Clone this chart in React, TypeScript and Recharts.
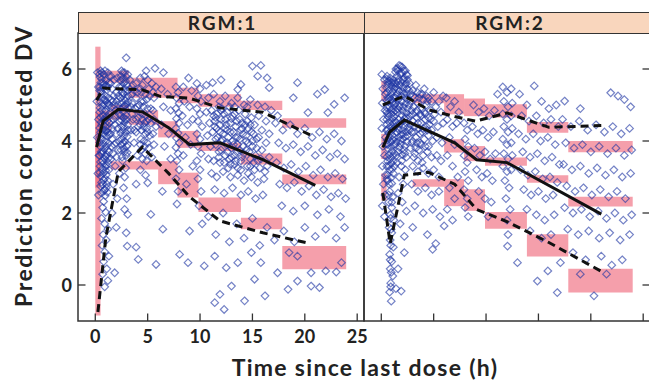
import React from 'react';
import { ComposedChart, XAxis, YAxis, Scatter, Line, ReferenceArea } from 'recharts';

const X_TICKS = [0, 5, 10, 15, 20, 25];
const Y_TICKS = [0, 2, 4, 6];
const X_DOMAIN: [number, number] = [-1.65, 25.65];
const Y_DOMAIN: [number, number] = [-1, 7];
const PANEL_TITLES = ['RGM:1', 'RGM:2'];
const Y_TITLE = 'Prediction corrected DV';
const X_TITLE = 'Time since last dose (h)';

// Observed prediction-corrected DV, RGM:1  [time, pcDV]
const obsRgm1: [number, number][] = [
  [0.5,5.95],[0.8,5.85],[1.2,5.9],[0.6,5.72],[1.0,5.68],[1.3,5.62],[0.45,5.5],[0.75,5.48],[1.1,5.42],[0.6,5.3],[0.95,5.26],[1.25,5.2],[0.5,5.08],[0.85,5.02],[1.15,4.98],[0.65,4.86],[1.0,4.82],[1.3,4.76],[0.5,4.66],[0.8,4.6],[1.15,4.56],[0.6,4.44],[0.95,4.4],[1.25,4.36],[0.5,4.24],[0.8,4.2],[1.1,4.14],[0.65,4.04],[1.0,3.98],[1.3,3.94],[0.5,3.84],[0.85,3.78],[1.15,3.74],[0.6,3.64],[0.95,3.58],[1.25,3.52],[0.5,3.42],[0.8,3.38],[1.1,3.32],[0.65,3.22],[1.0,3.18],[0.55,3.02],[0.9,2.96],[1.2,2.9],[0.7,2.78],[1.05,2.7],[0.6,2.55],[0.95,2.48],[0.8,2.32],
  [0.45,5.78],[0.7,5.62],[1.05,5.55],[0.55,5.38],[0.85,5.14],[1.2,5.05],[0.45,4.92],[0.75,4.72],[1.05,4.68],[0.55,4.52],[0.9,4.3],[1.2,4.24],[0.45,4.1],[0.75,3.92],[1.05,3.86],[0.55,3.7],[0.9,3.5],[1.2,3.42],[0.45,3.3],[0.75,3.1],[1.05,3.06],[0.6,2.85],[0.85,2.62],[1.15,2.58],
  [0.42,5.86],[0.62,5.9],[0.92,5.95],[1.32,5.8],[0.52,5.62],[0.82,5.58],[1.18,5.5],[0.42,5.4],[0.7,5.2],[1.0,5.12],[1.32,5.0],[0.42,4.8],[0.7,4.98],[0.95,4.6],[1.32,4.5],[0.42,4.36],[0.7,4.32],[1.05,4.28],[1.32,4.16],[0.42,3.96],[0.72,3.7],[1.1,3.62],[1.32,3.7],[0.42,3.6],[0.68,3.45],[0.95,3.28],[1.3,3.2],[0.45,3.12],[0.78,2.92],[1.1,2.8],[0.5,2.75],[0.9,2.65],
  [0.7,2.15],[1.0,2.02],[0.6,1.85],[0.9,1.7],[1.2,1.55],[0.75,1.4],[1.05,1.25],[0.65,1.1],[0.9,0.92],[1.3,0.8],[0.8,0.65],[1.1,0.45],[0.7,0.3],[1.2,0.12],[0.9,-0.05],
  [0.2,5.9],[0.3,5.5],[0.15,5.1],[0.3,4.6],[0.2,4.1],[0.35,3.6],[0.25,3.1],[0.3,2.5],
  [1.5,5.8],[1.8,5.7],[2.1,5.75],[1.6,5.45],[2.0,5.35],[2.3,5.5],[1.7,5.1],[2.2,5.0],[1.5,4.8],[1.9,4.7],[2.3,4.55],[1.6,4.35],[2.0,4.2],[1.8,3.9],[2.2,3.75],[1.5,3.5],[1.9,3.3],[2.3,3.1],[1.7,2.8],[2.1,2.4],[1.6,2.0],[2.0,1.6],
  [1.45,5.6],[1.75,5.25],[2.05,5.1],[1.55,4.95],[1.95,4.85],[2.25,4.75],[1.5,4.55],[1.85,4.45],[2.15,4.35],[1.6,4.05],[2.0,3.95],[1.7,3.65],
  [1.5,5.15],[1.85,5.0],[2.2,5.25],[1.45,4.2],[1.75,4.6],[2.3,4.0],[1.55,3.85],[2.0,3.55],
  [2.5,5.95],[2.8,5.9],[3.1,5.85],[2.6,5.72],[2.9,5.66],[2.5,5.5],[2.8,5.45],[3.1,5.4],[2.6,5.25],[2.95,5.2],[2.5,5.05],[2.8,4.98],[3.1,4.92],[2.65,4.8],[2.95,4.72],[2.5,4.58],[2.8,4.52],[3.1,4.45],[2.6,4.3],[2.9,4.24],[2.55,4.06],[2.85,3.98],[3.1,3.9],[2.7,3.78],[2.95,3.6],[2.6,3.45],[2.9,3.25],[2.8,3.0],[2.7,2.7],[3.0,2.4],[2.8,2.1],[2.95,6.31],[3.1,1.96],[2.95,1.45],[3.05,1.08],
  [2.45,5.8],[2.7,5.6],[3.0,5.55],[2.55,5.35],[2.85,5.12],[3.15,5.1],[2.45,4.9],[2.7,4.65],[3.0,4.6],[2.5,4.4],[2.75,4.15],[3.05,4.12],[2.5,3.9],[2.8,3.7],[3.05,3.68],[2.55,3.55],
  [2.42,5.68],[2.62,5.9],[2.98,5.78],[2.42,5.2],[2.7,5.32],[3.15,5.25],[2.42,4.72],[2.68,4.95],[3.0,5.02],[2.42,4.22],[2.72,4.4],[3.15,4.3],[2.45,3.75],[2.65,3.95],[3.0,3.85],[2.85,4.6],
  [3.3,5.7],[3.6,5.55],[3.9,5.6],[4.3,5.75],[4.7,5.8],[5.0,5.7],[5.4,5.6],[5.8,5.5],[3.5,5.3],[3.9,5.2],[4.4,5.35],[4.8,5.3],[5.2,5.25],[5.6,5.2],[3.4,4.95],[3.8,4.9],[4.2,5.0],[4.6,4.95],[5.0,4.9],[5.5,4.85],[3.6,4.6],[4.1,4.65],[4.5,4.6],[4.9,4.55],[5.3,4.5],[5.8,4.4],[3.4,4.3],[3.9,4.25],[4.4,4.3],[4.8,4.2],[5.2,4.15],[3.7,3.95],[4.3,3.9],[4.7,3.85],[5.1,3.8],[5.6,3.9],[4.0,3.6],[4.5,3.5],[4.9,3.45],[5.4,3.55],[4.3,3.2],[4.8,3.05],
  [4.3,5.45],[4.6,5.1],[4.9,5.15],[4.25,4.8],[4.55,4.75],[4.85,4.7],[4.3,4.45],[4.6,4.4],[4.9,4.35],[4.35,4.05],[4.65,4.0],[4.95,3.95],[4.4,3.75],[4.75,3.65],
  [3.3,5.45],[3.7,5.4],[4.0,5.35],[4.5,5.55],[5.1,5.45],[5.5,5.35],[3.5,5.05],[4.0,4.95],[4.4,5.1],[5.3,4.9],[3.5,4.75],[3.9,4.6],[4.7,4.5],[5.1,4.6],[5.6,4.6],[3.7,4.3],[4.1,4.4],[5.0,4.25],[5.5,4.2],
  [4.85,5.95],[5.7,6.02],[6.5,5.9],[3.9,2.8],[5.0,2.84],[5.3,1.96],[4.1,0.71],[5.8,0.57],[6.45,1.55],[3.9,1.05],[1.85,0.34],
  [6.3,5.45],[6.9,5.3],[6.5,4.95],[7.2,4.85],[6.3,4.45],[7.0,4.2],[6.6,3.85],[7.2,3.5],[6.4,2.6],
  [7.7,5.5],[7.9,5.35],[7.75,5.2],[8.0,5.05],[7.7,4.9],[7.95,4.78],[7.75,4.62],[8.0,4.5],[7.7,4.35],[7.9,4.22],[7.75,4.08],[8.0,3.95],[7.7,3.82],[7.9,3.65],[7.8,3.45],[8.0,3.2],[7.7,2.95],[7.9,2.6],[7.8,2.25],[8.05,0.85],[8.85,0.62],
  [8.4,5.5],[8.9,5.75],[9.2,5.4],[8.5,5.1],[9.0,4.95],[8.3,4.7],[8.8,4.45],[9.3,4.6],[8.6,4.1],[9.1,3.9],[8.4,3.6],[9.3,3.3],[8.7,2.8],[9.0,1.5],
  [9.7,5.6],[10.0,5.45],[9.8,5.25],[10.1,5.1],[9.7,4.9],[10.0,4.75],[9.8,4.55],[10.2,4.4],[9.7,4.2],[10.0,4.05],[9.8,3.85],[10.1,3.65],[9.7,3.45],[10.0,3.2],[9.8,2.95],[10.1,2.6],[9.9,2.2],[10.2,1.7],[10.4,0.53],
  [10.8,5.2],[11.3,5.3],[11.9,5.1],[12.4,5.25],[13.0,5.05],[13.6,5.2],[14.2,5.0],[14.8,5.15],[15.5,5.0],[16.2,4.95],[16.8,4.85],
  [10.6,4.8],[11.1,4.85],[11.6,4.75],[12.1,4.9],[12.6,4.8],[13.1,4.7],[13.7,4.85],[14.3,4.75],[14.9,4.65],[15.6,4.7],[16.3,4.55],
  [10.9,4.5],[11.4,4.55],[11.9,4.45],[12.4,4.6],[12.9,4.5],[13.4,4.4],[14.0,4.5],[14.6,4.35],[15.2,4.45],[15.9,4.3],[16.6,4.2],
  [10.7,4.15],[11.2,4.25],[11.7,4.1],[12.2,4.2],[12.7,4.1],[13.2,4.25],[13.8,4.05],[14.4,4.15],[15.0,4.0],[15.6,4.1],[16.3,3.95],
  [11.0,3.85],[11.5,3.9],[12.0,3.75],[12.5,3.9],[13.0,3.8],[13.5,3.7],[14.1,3.85],[14.7,3.7],[15.3,3.6],[15.9,3.75],[16.6,3.55],
  [10.8,3.5],[11.3,3.45],[11.8,3.55],[12.3,3.4],[12.8,3.5],[13.3,3.35],[13.9,3.45],[14.5,3.3],[15.1,3.4],[15.7,3.25],[16.4,3.3],
  [11.1,3.1],[11.6,3.0],[12.2,3.15],[12.9,3.0],[13.6,3.05],[14.2,2.9],[14.9,3.0],[15.5,2.85],[16.1,2.95],
  [11.4,2.65],[12.3,2.55],[13.1,2.7],[13.9,2.5],[14.6,2.6],[15.3,2.4],[16.0,2.5],
  [11.5,4.65],[12.0,4.6],[12.5,4.45],[13.0,4.62],[13.5,4.55],[14.0,4.35],[14.5,4.55],[11.6,4.35],[12.1,4.05],[12.6,4.3],[13.1,4.0],[13.6,4.1],[14.1,4.2],[14.6,3.95],[15.1,4.2],[11.8,3.7],[12.4,3.6],[13.0,3.55],[13.6,3.9],[14.2,3.65],[14.8,3.5],[15.4,3.8],[12.7,3.25],[13.3,3.6],[13.9,3.2],[14.6,3.1],[15.2,3.2],[15.8,3.5],[16.2,3.15],[12.0,4.85],[13.3,4.95],[14.5,4.95],
  [11.3,4.7],[11.8,4.95],[12.3,4.75],[12.8,4.95],[13.3,4.75],[13.8,4.6],[14.3,4.45],[14.8,4.45],[11.4,4.4],[11.9,4.25],[12.4,4.35],[12.9,4.25],[13.4,4.1],[13.9,4.3],[14.4,4.0],[14.9,4.25],[15.4,4.05],[11.5,4.05],[12.0,4.0],[12.6,3.95],[13.2,3.9],[13.8,3.75],[14.4,3.75],[15.0,3.85],[11.9,3.4],[12.6,3.7],[13.4,3.45],[14.0,3.55],[14.8,3.3],[15.5,3.45],[12.9,3.35],[13.6,3.25],
  [17.2,4.5],[17.9,4.3],[18.6,4.45],[19.3,4.2],[20.0,4.35],[20.7,4.1],[21.4,4.25],[22.1,4.05],[22.8,4.2],[23.5,4.0],
  [17.5,3.95],[18.2,3.8],[18.9,3.9],[19.6,3.7],[20.3,3.85],[21.0,3.6],[21.7,3.75],[22.4,3.55],[23.1,3.65],[23.8,3.5],
  [17.3,3.4],[18.0,3.25],[18.7,3.35],[19.4,3.15],[20.1,3.3],[20.8,3.05],[21.5,3.2],[22.2,3.0],[22.9,3.1],[23.6,2.95],
  [17.6,2.8],[18.3,2.7],[19.0,2.85],[19.7,2.6],[20.4,2.75],[21.1,2.5],[21.8,2.65],[22.5,2.45],[23.2,2.55],[23.9,2.4],
  [17.8,2.2],[18.9,2.05],[20.0,2.2],[21.2,1.95],[22.3,2.1],[23.4,1.9],
  [10.8,1.9],[11.5,1.4],[12.2,2.0],[12.8,1.2],[13.5,1.7],[14.2,1.3],[15.0,1.85],[15.7,1.1],[16.4,1.6],[17.1,1.25],[18.0,1.5],[19.0,1.2],[20.0,1.6],[21.0,1.35],[22.0,1.55],[23.0,1.3],[23.8,1.6],
  [11.4,0.8],[12.5,0.48],[13.6,0.62],[14.9,0.9],[15.8,0.62],[17.4,0.34],[19.3,0.8],[20.6,0.34],[22.0,0.39],[23.0,0.36],[23.5,0.62],[18.5,0.9],
  [11.4,-0.49],[11.9,-0.26],[12.3,-0.68],[13.0,-0.03],[14.25,-0.44],[15.2,0.16],[16.2,-0.3],[18.4,-0.12],[19.3,0.11],[20.6,-0.03],[21.4,-0.07],
  [15.0,6.08],[15.8,6.1],[15.5,5.8],[16.4,5.75],[16.6,5.48],[13.9,5.57],[13.6,5.43],[11.2,5.62],[19.3,5.62],[18.9,5.2],[21.2,5.3],[21.9,5.43],[23.8,5.2],[22.8,5.02],[22.2,4.79],[20.3,4.79],[17.4,4.7],[12.0,5.7],[10.6,5.55],
];

// Observed prediction-corrected DV, RGM:2
const obsRgm2: [number, number][] = [
  [0.05,5.85],[0.3,5.7],[0.15,5.45],[0.4,5.3],[0.1,5.05],[0.35,4.85],[0.2,4.6],[0.05,4.35],[0.4,4.1],[0.15,3.85],[0.3,3.6],[0.1,3.3],[0.4,3.05],[0.2,2.8],[0.35,2.5],[0.1,2.2],[0.3,1.9],
  [0.55,5.8],[0.85,5.75],[1.15,5.7],[0.65,5.58],[1.0,5.52],[1.25,5.45],[0.55,5.35],[0.9,5.3],[1.2,5.22],[0.7,5.1],[1.05,5.05],[0.55,4.92],[0.9,4.86],[1.2,4.8],[0.65,4.68],[1.0,4.62],[1.3,4.56],[0.55,4.46],[0.85,4.4],[1.15,4.34],[0.7,4.22],[1.05,4.16],[0.55,4.02],[0.9,3.96],[1.2,3.9],[0.65,3.78],[1.0,3.72],[0.55,3.56],[0.85,3.5],[1.15,3.44],[0.7,3.3],[1.05,3.22],[0.6,3.06],[0.95,2.98],[0.75,2.8],
  [0.6,5.65],[0.95,5.62],[1.25,5.6],[0.6,5.2],[0.95,5.16],[1.25,5.0],[0.6,4.76],[0.95,4.74],[1.25,4.68],[0.6,4.32],[0.95,4.28],[1.25,4.1],[0.6,3.9],[0.95,3.84],[1.25,3.66],[0.6,3.44],[0.95,3.38],[1.25,3.3],[0.6,2.9],[1.0,2.82],[0.7,2.5],[1.0,2.3],[0.9,1.85],[0.95,1.55],[0.9,1.1],[0.85,0.7],[0.95,0.35],[0.9,-0.05],
  [0.52,5.72],[0.78,5.68],[1.08,5.62],[0.5,5.48],[0.8,5.42],[1.1,5.38],[0.52,5.12],[0.78,5.2],[1.12,5.1],[0.5,4.82],[0.8,4.95],[1.1,4.9],[0.52,4.6],[0.78,4.52],[1.12,4.48],[0.5,4.3],[0.78,4.1],[1.1,4.04],[0.52,3.92],[0.75,3.62],[1.1,3.58],[0.52,3.3],[0.8,3.2],[1.15,3.1],[0.55,2.95],
  [0.8,2.6],[1.1,2.45],[0.7,2.3],[1.0,2.15],[0.85,1.95],[1.2,1.8],[0.75,1.6],[1.0,1.45],[0.85,1.25],[1.15,1.05],[0.8,0.85],[1.0,0.65],[0.85,0.45],[1.1,0.25],[0.9,0.05],[0.8,-0.2],[0.95,-0.45],[1.4,-0.1],[1.6,0.45],
  [1.4,6.0],[1.7,6.1],[2.0,6.05],[2.3,5.95],[1.5,5.8],[1.85,5.85],[2.2,5.75],[2.5,5.7],[1.4,5.6],[1.75,5.55],[2.1,5.5],[2.45,5.45],[1.5,5.3],[1.9,5.25],[2.3,5.2],[1.4,5.05],[1.75,5.0],[2.1,4.95],[2.5,4.9],[1.55,4.78],[1.95,4.72],[2.35,4.66],[1.4,4.52],[1.8,4.48],[2.2,4.42],[2.55,4.38],[1.5,4.24],[1.9,4.18],[2.3,4.12],[1.45,3.98],[1.85,3.92],[2.25,3.86],[1.6,3.7],[2.0,3.62],[2.4,3.55],[1.5,3.4],[1.9,3.3],[2.3,3.2],[1.7,3.0],[2.1,2.8],[1.6,2.55],[2.0,2.3],[2.4,2.05],[1.8,1.7],[2.2,1.35],[2.2,0.9],[1.9,-0.17],
  [1.6,5.95],[1.95,5.9],[2.4,5.85],[1.6,5.65],[1.95,5.62],[2.3,5.58],[1.6,5.42],[2.0,5.38],[2.4,5.32],[1.6,5.15],[1.95,5.1],[2.35,5.05],[1.6,4.88],[2.05,4.84],[2.4,4.78],[1.65,4.6],[2.05,4.55],[2.4,4.5],[1.6,4.35],[2.0,4.3],[2.4,4.25],[1.65,4.1],[2.05,4.05],[2.45,3.98],[1.75,3.82],[2.15,3.75],
  [1.35,5.92],[1.55,6.02],[1.85,6.08],[2.15,5.95],[2.5,5.82],[1.35,5.5],[1.68,5.72],[2.05,5.7],[2.4,5.6],[1.35,5.2],[1.7,5.38],[2.15,5.3],[2.5,5.15],[1.35,4.85],[1.75,4.95],[2.2,4.62],[2.55,4.62],[1.35,4.4],[1.7,4.3],[2.1,4.2],[2.5,4.15],[1.35,3.9],[1.8,4.02],[2.25,3.65],[1.45,3.6],[1.95,3.45],
  [2.7,5.6],[3.0,5.4],[3.3,5.55],[3.7,5.3],[4.1,5.45],[4.5,5.2],[5.0,5.35],[5.5,5.1],[5.9,5.25],
  [2.8,5.1],[3.1,4.95],[3.5,5.05],[3.9,4.9],[4.3,5.0],[4.7,4.85],[5.2,4.95],[5.7,4.8],
  [2.7,4.7],[3.0,4.55],[3.4,4.65],[3.8,4.5],[4.2,4.6],[4.6,4.45],[5.0,4.55],[5.4,4.4],[5.9,4.5],
  [2.9,4.25],[3.3,4.1],[3.7,4.2],[4.1,4.05],[4.5,4.15],[4.9,4.0],[5.3,4.1],[5.8,3.95],
  [2.8,3.8],[3.2,3.65],[3.6,3.75],[4.0,3.6],[4.4,3.7],[4.8,3.55],[5.3,3.6],[5.7,3.45],
  [3.0,3.3],[3.5,3.15],[4.0,3.25],[4.5,3.1],[5.0,3.2],[5.5,3.0],
  [2.9,2.8],[3.5,2.6],[4.2,2.7],[4.8,2.5],[5.5,2.6],
  [3.2,2.2],[4.0,2.0],[4.9,2.1],[5.6,1.9],[3.0,1.6],[4.4,1.4],[4.9,0.99],[6.0,1.64],[5.2,1.15],
  [2.8,5.3],[3.2,5.2],[3.6,5.2],[4.0,5.15],[4.4,5.1],[2.9,4.85],[3.3,4.8],[3.7,4.75],[4.1,4.8],[4.5,4.65],[2.8,4.45],[3.2,4.4],[3.6,4.35],[4.0,4.35],[4.4,4.3],[3.0,4.0],[3.4,3.95],[3.8,3.9],[4.2,3.85],[3.1,3.55],[3.5,3.45],[3.9,3.4],
  [2.65,5.4],[3.05,5.25],[3.45,5.35],[3.9,5.3],[4.3,5.25],[4.8,5.1],[2.65,5.0],[3.0,4.75],[3.4,4.85],[3.8,4.7],[4.2,4.75],[4.7,4.6],[5.1,4.75],[2.7,4.3],[3.1,4.25],[3.5,4.5],[3.9,4.25],[4.3,4.4],[4.8,4.3],[2.9,3.95],[3.3,3.8],[3.7,3.95],[4.5,3.85],
  [6.2,5.2],[6.6,4.95],[7.0,5.1],[7.4,4.8],[6.3,4.6],[6.8,4.4],[7.2,4.5],[6.5,4.1],[7.0,3.9],[6.3,3.6],[6.8,3.3],[7.3,3.0],[6.5,2.7],[7.0,2.4],[6.3,2.1],[6.8,1.8],
  [7.9,4.5],[8.2,4.3],[8.0,4.05],[8.3,3.85],[7.9,3.6],[8.2,3.4],[8.0,3.15],[8.3,2.9],[7.9,2.65],[8.2,2.4],[8.0,2.15],[8.3,1.9],
  [8.8,5.0],[9.3,4.8],[9.8,4.9],[10.3,4.7],[10.8,4.85],[8.7,4.4],[9.2,4.2],[9.7,4.3],[10.2,4.1],[10.7,4.25],[8.9,3.8],[9.4,3.6],[9.9,3.7],[10.4,3.5],[10.9,3.65],[9.1,3.2],[9.6,3.0],[10.1,3.1],[10.6,2.9],[9.3,2.6],[9.9,2.4],[10.5,2.3],[10.2,1.9],[11.1,5.3],
  [11.6,5.5],[12.0,5.35],[12.4,5.45],[11.7,5.1],[12.1,4.95],[12.5,5.05],[11.6,4.75],[12.0,4.6],[12.4,4.7],[11.7,4.4],[12.1,4.25],[12.5,4.35],[11.6,4.05],[12.0,3.9],[12.4,3.95],[11.7,3.65],[12.1,3.5],[12.5,3.6],[11.6,3.3],[12.0,3.15],[12.4,3.2],[11.8,2.9],[12.2,2.7],[11.9,2.4],[12.3,2.1],[12.0,1.8],[12.1,1.4],[12.05,1.08],
  [13.2,5.3],[13.9,5.0],[14.6,5.53],[15.3,5.1],[16.0,4.9],[16.7,5.0],
  [13.4,4.7],[14.1,4.55],[14.8,4.7],[15.5,4.5],[16.2,4.6],[16.9,4.4],
  [13.1,4.2],[13.8,4.05],[14.5,4.2],[15.2,4.0],[15.9,4.1],[16.6,3.9],
  [13.5,3.7],[14.2,3.55],[14.9,3.65],[15.6,3.45],[16.3,3.55],[17.0,3.35],
  [13.3,3.2],[14.0,3.05],[14.7,3.15],[15.4,2.95],[16.1,3.0],[16.8,2.85],
  [13.6,2.65],[14.3,2.5],[15.0,2.6],[15.7,2.4],[16.4,2.5],
  [13.9,2.1],[14.8,1.95],[15.6,1.8],[16.5,1.95],
  [14.2,1.5],[15.3,1.3],[16.2,1.4],[13.0,0.62],[14.9,0.11],[15.9,0.39],[16.8,-0.21],[17.1,0.62],
  [17.5,5.11],[21.9,5.34],[22.6,5.25],[23.2,5.15],[23.8,4.95],[19.0,4.9],
  [17.3,4.6],[18.1,4.4],[18.9,4.55],[19.7,4.3],[20.5,4.45],[21.3,4.25],[22.1,4.4],[22.9,4.2],[23.7,4.35],
  [17.6,3.95],[18.4,3.8],[19.2,3.9],[20.0,3.7],[20.8,3.85],[21.6,3.65],[22.4,3.8],[23.2,3.6],[23.9,3.75],
  [17.4,3.35],[18.2,3.2],[19.0,3.3],[19.8,3.1],[20.6,3.25],[21.4,3.05],[22.2,3.2],[23.0,3.0],[23.8,3.1],
  [17.7,2.75],[18.5,2.6],[19.3,2.7],[20.1,2.5],[20.9,2.65],[21.7,2.45],[22.5,2.6],[23.3,2.4],
  [17.5,2.15],[18.3,2.0],[19.1,2.1],[19.9,1.9],[20.7,2.05],[21.5,1.85],[22.3,2.0],[23.1,1.8],[23.9,1.95],
  [17.8,1.55],[18.8,1.4],[19.8,1.5],[20.8,1.3],[21.8,1.45],[22.8,1.25],[23.7,1.4],
  [18.3,0.9],[19.5,0.7],[21.0,0.8],[22.0,0.55],[23.0,0.7],[20.3,-0.3],[21.5,0.3],[19.0,0.3],
];

// Simulated 95% CI rectangles [t1, t2, low, high]
const ciRgm1: [number, number, number, number][] = [
  [0, 0.5, 3.7, 6.62], [0.5, 3.2, 5.62, 5.95], [3.2, 7.85, 5.2, 5.76], [7.85, 9.85, 5.05, 5.48],
  [9.85, 13.9, 4.95, 5.3], [13.9, 17.85, 4.86, 5.12], [17.85, 23.95, 4.37, 4.63],
  [0, 0.5, 2.7, 4.8], [0.5, 1.5, 4.3, 4.85], [1.5, 3.2, 4.6, 5.0], [3.2, 6.0, 4.45, 4.85], [6.0, 7.85, 4.1, 4.55],
  [7.85, 9.85, 3.81, 4.28], [9.85, 13.9, 3.72, 3.95], [13.9, 17.85, 3.35, 3.65], [17.85, 23.95, 2.8, 3.07],
  [0, 0.5, -0.85, 3.7], [1.5, 6.0, 3.21, 3.44], [6.0, 7.85, 2.8, 3.44], [7.85, 9.85, 2.43, 3.12],
  [9.85, 13.9, 2.03, 2.43], [13.9, 17.85, 1.55, 1.87], [17.85, 23.95, 0.44, 1.08],
];
const ciRgm2: [number, number, number, number][] = [
  [0, 0.5, 5.11, 5.67], [3.0, 6.0, 5.05, 5.3], [6.0, 7.9, 4.74, 5.3], [7.9, 9.9, 4.69, 5.18],
  [9.9, 13.9, 4.65, 5.02], [13.9, 17.85, 4.23, 4.53], [17.85, 24.0, 3.69, 4.0],
  [0, 0.5, 3.5, 4.2], [6.0, 7.9, 3.68, 4.05], [7.9, 9.9, 3.44, 3.86], [9.9, 13.9, 3.31, 3.54],
  [13.9, 17.85, 2.84, 3.05], [17.85, 24.0, 2.18, 2.45],
  [0, 0.5, 2.35, 3.1], [3.0, 6.0, 2.73, 2.94], [6.0, 7.9, 2.19, 2.94], [7.9, 9.9, 2.06, 2.66],
  [9.9, 13.9, 1.56, 2.03], [13.9, 17.85, 0.79, 1.41], [17.85, 24.0, -0.21, 0.45],
];

// Observed percentiles [time, value]
const medRgm1: [number, number][] = [[0.13,3.83],[0.75,4.56],[2.2,4.88],[4.5,4.81],[7.0,4.37],[9.0,3.9],[11.9,3.95],[16.0,3.48],[21.0,2.77]];
const hiRgm1: [number, number][] = [[0.13,5.13],[0.77,5.47],[2.2,5.45],[4.5,5.42],[6.2,5.24],[9.0,5.19],[11.9,4.92],[16.0,4.8],[20.5,4.17]];
const loRgm1: [number, number][] = [[0.25,-0.75],[1.0,1.3],[2.2,3.15],[4.5,3.83],[7.0,3.1],[9.0,2.45],[11.9,1.78],[16.0,1.45],[20.5,1.15]];
const medRgm2: [number, number][] = [[0.15,3.82],[0.8,4.25],[2.2,4.58],[7.0,3.95],[9.1,3.48],[12.0,3.4],[21.0,1.97]];
const hiRgm2: [number, number][] = [[0.15,5.0],[2.2,5.25],[4.5,4.87],[7.0,4.68],[9.0,4.55],[12.0,4.78],[16.0,4.38],[21.0,4.43]];
const loRgm2: [number, number][] = [[0.15,2.56],[0.85,1.15],[2.2,3.05],[4.5,3.13],[7.0,2.8],[9.1,2.1],[12.0,1.76],[16.0,1.18],[21.0,0.38]];

const FONT = "Lato, 'Open Sans', 'DejaVu Sans', sans-serif";
const INK = '#222';
const FRAME = '#333';

const toXY = (a: [number, number][]) => a.map(([x, y]) => ({ x, y }));

const Diamond = (props: any) => {
  const { cx, cy } = props;
  if (cx == null || cy == null) return null;
  const r = 3.8;
  return (
    <path
      d={`M${cx} ${cy - r}L${cx + r} ${cy}L${cx} ${cy + r}L${cx - r} ${cy}Z`}
      fill="none"
      stroke="#1f35a3"
      strokeOpacity={0.62}
      strokeWidth={1.2}
    />
  );
};

const makeXTick = (labels: boolean) => (props: any) => {
  const { x, y, payload } = props;
  return (
    <g>
      <line x1={x} x2={x} y1={y} y2={y - 7.5} stroke={FRAME} strokeWidth={1.3} />
      {labels && (
        <text x={x} y={y + 22} textAnchor="middle" fontFamily={FONT} fontWeight={700} fontSize={18} fill={INK}>
          {payload.value}
        </text>
      )}
    </g>
  );
};

const LeftYTick = (props: any) => {
  const { x, y, payload } = props;
  return (
    <g>
      <line x1={x} x2={x + 7.5} y1={y} y2={y} stroke={FRAME} strokeWidth={1.3} />
      <text x={x - 6} y={y + 6.5} textAnchor="end" fontFamily={FONT} fontWeight={700} fontSize={18} fill={INK}>
        {payload.value}
      </text>
    </g>
  );
};

const RightYTick = (props: any) => {
  const { x, y } = props;
  return <line x1={x - 7.5} x2={x} y1={y} y2={y} stroke={FRAME} strokeWidth={1.3} />;
};

type PanelProps = {
  left: boolean;
  obs: [number, number][];
  ci: [number, number, number, number][];
  med: [number, number][];
  hi: [number, number][];
  lo: [number, number][];
};

const Panel = ({ left, obs, ci, med, hi, lo }: PanelProps) => {
  const width = left ? 372 : 300;
  const margin = left ? { top: 33, right: 8, bottom: 58, left: 77 } : { top: 33, right: 5, bottom: 58, left: 8 };
  return (
    <ComposedChart width={width} height={380} margin={margin}>
      <XAxis
        type="number"
        dataKey="x"
        domain={X_DOMAIN}
        ticks={X_TICKS}
        interval={0}
        allowDataOverflow
        axisLine={false}
        tickLine={false}
        tickSize={0}
        tickMargin={0}
        height={1}
        tick={makeXTick(left)}
      />
      <YAxis
        type="number"
        dataKey="y"
        orientation={left ? 'left' : 'right'}
        domain={Y_DOMAIN}
        ticks={Y_TICKS}
        interval={0}
        allowDataOverflow
        axisLine={false}
        tickLine={false}
        tickSize={0}
        tickMargin={0}
        width={1}
        tick={left ? LeftYTick : RightYTick}
      />
      {ci.map(([x1, x2, y1, y2], i) => (
        <ReferenceArea
          key={`ci${i}`}
          x1={x1}
          x2={x2}
          y1={y1}
          y2={y2}
          fill="#ee5f73"
          fillOpacity={0.6}
          stroke="none"
          ifOverflow="visible"
          zIndex={50}
        />
      ))}
      <Scatter data={toXY(obs)} shape={Diamond} isAnimationActive={false} zIndex={300} />
      <Line data={toXY(med)} dataKey="y" stroke="#111" strokeWidth={3} dot={false} activeDot={false} isAnimationActive={false} zIndex={700} />
      <Line data={toXY(hi)} dataKey="y" stroke="#111" strokeWidth={3} strokeDasharray="8 5" dot={false} activeDot={false} isAnimationActive={false} zIndex={700} />
      <Line data={toXY(lo)} dataKey="y" stroke="#111" strokeWidth={3} strokeDasharray="8 5" dot={false} activeDot={false} isAnimationActive={false} zIndex={700} />
      <ReferenceArea
        x1={X_DOMAIN[0]}
        x2={X_DOMAIN[1]}
        y1={Y_DOMAIN[0]}
        y2={Y_DOMAIN[1]}
        fill="none"
        stroke={FRAME}
        strokeWidth={1.5}
        ifOverflow="visible"
        zIndex={800}
      />
    </ComposedChart>
  );
};

const stripStyle = (left: number, width: number): React.CSSProperties => ({
  position: 'absolute',
  left,
  top: 12,
  width,
  height: 22,
  background: '#f9d6bd',
  border: `1.4px solid ${FRAME}`,
  boxSizing: 'border-box',
  textAlign: 'center',
  fontFamily: FONT,
  fontWeight: 700,
  fontSize: 19,
  letterSpacing: 2,
  lineHeight: '19px',
  color: INK,
});

export default function App() {
  return (
    <div style={{ position: 'absolute', left: 0, top: 0, width: 649, height: 380, overflow: 'hidden', background: '#fff' }}>
      <div style={{ position: 'absolute', left: 0, top: 0 }}>
        <Panel left obs={obsRgm1} ci={ciRgm1} med={medRgm1} hi={hiRgm1} lo={loRgm1} />
      </div>
      <div style={{ position: 'absolute', left: 356, top: 0 }}>
        <Panel left={false} obs={obsRgm2} ci={ciRgm2} med={medRgm2} hi={hiRgm2} lo={loRgm2} />
      </div>
      <div style={{ ...stripStyle(78, 287), paddingLeft: 2 }}>{PANEL_TITLES[0]}</div>
      <div style={{ ...stripStyle(364, 290), paddingLeft: 2 }}>{PANEL_TITLES[1]}</div>
      <svg width={649} height={380} style={{ position: 'absolute', left: 0, top: 0, pointerEvents: 'none' }}>
        <text
          x={32}
          y={166}
          transform="rotate(-90 32 166)"
          textAnchor="middle"
          fontFamily={FONT}
          fontWeight={700}
          fontSize={23}
          letterSpacing={1.5}
          fill={INK}
        >
          {Y_TITLE}
        </text>
        <text x={365} y={376} textAnchor="middle" fontFamily={FONT} fontWeight={700} fontSize={23} letterSpacing={1.3} fill={INK}>
          {X_TITLE}
        </text>
      </svg>
    </div>
  );
}
